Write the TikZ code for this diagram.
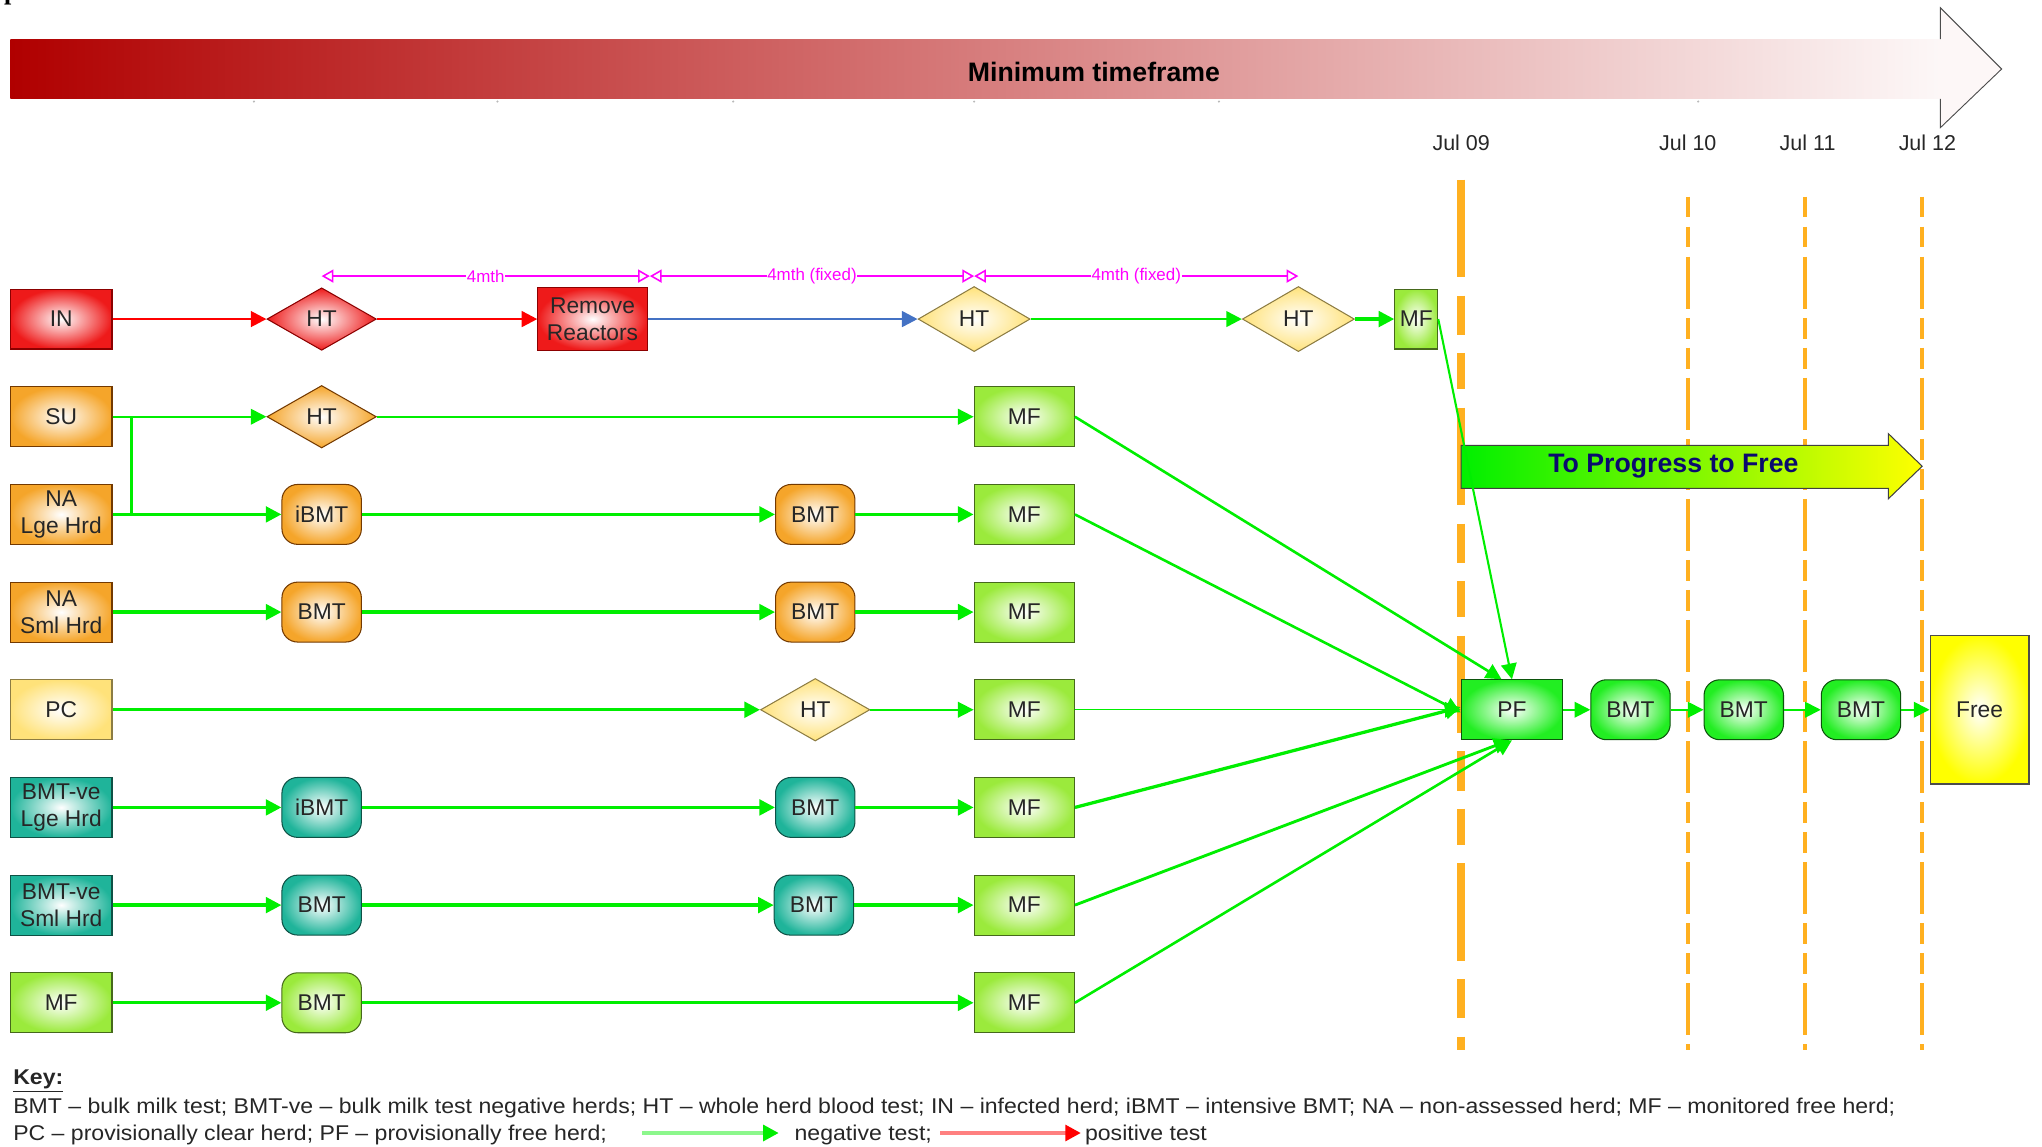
\documentclass[tikz,border=0pt]{standalone}
\usepackage{fontspec}
\setmainfont{Liberation Sans}
\newfontfamily\pserif{Liberation Serif}
\newfontfamily\keyfam[FakeStretch=1.08]{Liberation Sans}
\usetikzlibrary{shapes.geometric,arrows.meta}
\definecolor{cred}{HTML}{EE1A1A}
\definecolor{corange}{HTML}{F5A52A}
\definecolor{cyellow}{HTML}{FFE27A}
\definecolor{cteal}{HTML}{1FB49A}
\definecolor{clime}{HTML}{9BEA3C}
\definecolor{cgreen}{HTML}{22EE22}
\definecolor{cfree}{HTML}{FFFF00}
\definecolor{arrgreen}{HTML}{00EE00}
\definecolor{arrred}{HTML}{FF0000}
\definecolor{cblue}{HTML}{4472C4}
\definecolor{cmag}{HTML}{FF00FF}
\definecolor{cdash}{HTML}{FFB020}
\definecolor{navy}{HTML}{0A0A6E}
\definecolor{barred}{HTML}{B00000}
\begin{document}
\begin{tikzpicture}[x=1pt,y=-1pt,
  lbl/.style={font=\fontsize{17.5}{21}\selectfont, text=black!85},
  box/.style={lbl, rectangle, minimum width=78pt, minimum height=46pt, inner sep=1pt, align=center, line width=0.8pt},
  dia/.style={lbl, diamond, aspect=1.75, minimum width=84pt, minimum height=48pt, inner sep=0pt, line width=0.8pt},
  rnd/.style={lbl, rectangle, rounded corners=12pt, minimum width=61pt, minimum height=46pt, inner sep=1pt, line width=0.8pt},
  fred/.style={draw=red!55!black, inner color=white, outer color=cred},
  forange/.style={draw=orange!45!black, inner color=white, outer color=corange},
  fyellow/.style={draw=cyellow!55!black, inner color=white, outer color=cyellow},
  fteal/.style={draw=cteal!45!black, inner color=white, outer color=cteal},
  flime/.style={draw=clime!45!black, inner color=white, outer color=clime},
  fgreen/.style={draw=cgreen!35!black, inner color=white, outer color=cgreen},
  ffree/.style={draw=black!70, inner color=white, outer color=cfree},
  arw/.style={-{Triangle[length=12pt,width=12pt]}},
  negarr/.style={arw, draw=arrgreen, fill=arrgreen, line width=#1},
  negarr/.default=2.5pt,
  posarr/.style={arw, draw=arrred, fill=arrred, line width=2pt},
  dimline/.style={draw=cmag, line width=1.2pt, {Triangle[open,length=9pt,width=10pt]}-{Triangle[open,length=9pt,width=10pt]}},
  dimlbl/.style={fill=white, inner sep=0.5pt, text=cmag, font=\fontsize{13}{14}\selectfont},
  datelbl/.style={font=\fontsize{16.5}{18}\selectfont, text=black!85},
  keyfont/.style={font=\keyfam\fontsize{16.4}{18}\selectfont, text=black!85, anchor=base west, inner sep=0pt}
]
\useasboundingbox (0,0) rectangle (1568,880);
\clip (0,0) rectangle (1568,880);

% fragment of a letter at the very top
\node[font=\pserif\bfseries\fontsize{20}{20}\selectfont, anchor=base west, inner sep=0pt] (pfrag) at (3,0) {p};

% timeframe bar
\shade[left color=barred, right color=barred!3] (8,30) rectangle (1490,76);
\fill[barred!3] (1490,6) -- (1537,53) -- (1490,98) -- cycle;
\draw[black!70, line width=0.7pt] (1490,30) -- (1490,6) -- (1537,53) -- (1490,98) -- (1490,76);
\foreach \t in {195,382,563,748,936,1304} \fill[gray!55] (\t,78) circle (0.9);
\node[font=\bfseries\fontsize{20.5}{24}\selectfont] (title) at (840,55) {Minimum timeframe};

% dates and dashed lines
\node[datelbl] (d09) at (1122,110) {Jul 09};
\node[datelbl] (d10) at (1296,110) {Jul 10};
\node[datelbl] (d11) at (1388,110) {Jul 11};
\node[datelbl] (d12) at (1480,110) {Jul 12};
\draw[cdash, line width=6pt, dash pattern=on 75pt off 14pt on 30pt off 14pt on 28pt off 14pt] (1122,138) -- (1122,806);
\foreach \x in {1296,1386,1476}
  \draw[cdash, line width=3pt, dash pattern=on 16pt off 7pt on 16pt off 7pt on 40pt off 7pt] (\x,151) -- (\x,806);

% progress arrow
\path[draw=black!75, line width=0.8pt, left color=arrgreen!90!green, right color=yellow]
  (1122,342) -- (1450,342) -- (1450,333) -- (1476,358) -- (1450,383) -- (1450,375) -- (1122,375) -- cycle;
\node[font=\bfseries\fontsize{20.5}{24}\selectfont, text=navy] (prog) at (1285,358) {To Progress to Free};

% left column
\node[box, fred] (in) at (47,245) {IN};
\node[box, forange] (su) at (47,320) {SU};
\node[box, forange] (nal) at (47,395) {NA\\Lge Hrd};
\node[box, forange] (nas) at (47,470) {NA\\Sml Hrd};
\node[box, fyellow] (pc) at (47,545) {PC};
\node[box, fteal] (bvl) at (47,620) {BMT-ve\\Lge Hrd};
\node[box, fteal] (bvs) at (47,695) {BMT-ve\\Sml Hrd};
\node[box, flime] (mf) at (47,770) {MF};

% column 1
\node[dia, fred] (ht1) at (247,245) {HT};
\node[dia, forange] (ht2) at (247,320) {HT};
\node[rnd, forange] (ibmt1) at (247,395) {iBMT};
\node[rnd, forange] (bmt1) at (247,470) {BMT};
\node[rnd, fteal] (ibmt2) at (247,620) {iBMT};
\node[rnd, fteal] (bmt2) at (247,695) {BMT};
\node[rnd, flime] (bmt3) at (247,770) {BMT};

\node[box, fred, minimum width=84pt, minimum height=48pt] (rr) at (455,245) {Remove\\Reactors};

% column 2
\node[rnd, forange] (bmt4) at (626,395) {BMT};
\node[rnd, forange] (bmt5) at (626,470) {BMT};
\node[dia, fyellow] (ht5) at (626,545) {HT};
\node[rnd, fteal] (bmt6) at (626,620) {BMT};
\node[rnd, fteal] (bmt7) at (625,695) {BMT};

% top row
\node[dia, fyellow, minimum width=86pt, minimum height=50pt] (ht3) at (748,245) {HT};
\node[dia, fyellow, minimum width=86pt, minimum height=50pt] (ht4) at (997,245) {HT};
\node[box, flime, minimum width=33pt] (mfs) at (1087.5,245) {MF};

% column 3
\node[box, flime, minimum width=77pt] (mf2) at (786.5,320) {MF};
\node[box, flime, minimum width=77pt] (mf3) at (786.5,395) {MF};
\node[box, flime, minimum width=77pt] (mf4) at (786.5,470) {MF};
\node[box, flime, minimum width=77pt] (mf5) at (786.5,545) {MF};
\node[box, flime, minimum width=77pt] (mf6) at (786.5,620) {MF};
\node[box, flime, minimum width=77pt] (mf7) at (786.5,695) {MF};
\node[box, flime, minimum width=77pt] (mf8) at (786.5,770) {MF};

% right part
\node[box, fgreen] (pf) at (1161,545) {PF};
\node[rnd, fgreen] (g1) at (1252,545) {BMT};
\node[rnd, fgreen] (g2) at (1339,545) {BMT};
\node[rnd, fgreen] (g3) at (1429,545) {BMT};
\node[box, ffree, minimum width=76pt, minimum height=114pt] (free) at (1520,545) {Free};

% connectors
\draw[posarr] (in) -- (ht1);
\draw[posarr] (ht1) -- (rr);
\draw[arw, draw=cblue, fill=cblue, line width=2pt] (rr) -- (ht3);
\draw[negarr=2pt] (ht3) -- (ht4);
\draw[negarr=2.5pt] (ht4) -- (mfs);
\draw[negarr=1.6pt] (mfs.east) -- (pf.north);

\coordinate (j1) at (101,320);
\coordinate (j2) at (101,395);
\draw[negarr=1.3pt] (su) -- (ht2);
\draw[draw=arrgreen, line width=2pt] (j1) -- (j2);
\draw[negarr=1.3pt] (ht2) -- (mf2);
\draw[negarr=2pt] (mf2.east) -- ([xshift=-8pt]pf.north);

\draw[negarr] (nal) -- (ibmt1);
\draw[negarr] (ibmt1) -- (bmt4);
\draw[negarr] (bmt4) -- (mf3);
\draw[negarr=2pt] (mf3.east) -- ([yshift=-2pt]pf.west);

\draw[negarr] (nas) -- (bmt1);
\draw[negarr] (bmt1) -- (bmt5);
\draw[negarr] (bmt5) -- (mf4);

\draw[negarr] (pc) -- (ht5);
\draw[negarr=1.3pt] (ht5) -- (mf5);
\draw[negarr=1pt] (mf5) -- (pf);

\draw[negarr] (bvl) -- (ibmt2);
\draw[negarr] (ibmt2) -- (bmt6);
\draw[negarr] (bmt6) -- (mf6);
\draw[negarr=2.5pt] (mf6.east) -- ([yshift=2pt]pf.west);

\draw[negarr] (bvs) -- (bmt2);
\draw[negarr] (bmt2) -- (bmt7);
\draw[negarr] (bmt7) -- (mf7);
\draw[negarr=2.2pt] (mf7.east) -- ([xshift=-2pt]pf.south);

\draw[negarr] (mf) -- (bmt3);
\draw[negarr] (bmt3) -- (mf8);
\draw[negarr=2pt] (mf8.east) -- (pf.south);

\draw[negarr=1.3pt] (pf) -- (g1);
\draw[negarr=1.3pt] (g1) -- (g2);
\draw[negarr=1.3pt] (g2) -- (g3);
\draw[negarr=1.3pt] (g3) -- (free);

% magenta intervals
\coordinate (m0) at (247,212);
\coordinate (m1) at (499,212);
\coordinate (m2) at (748,212);
\coordinate (m3) at (997,212);
\draw[dimline] (m0) -- node[dimlbl] (l1) {4mth} (m1);
\draw[dimline] (m1) -- node[dimlbl] (l2) {4mth (fixed)} (m2);
\draw[dimline] (m2) -- node[dimlbl] (l3) {4mth (fixed)} (m3);

% key
\node[keyfont, font=\keyfam\bfseries\fontsize{16.4}{18}\selectfont] (key) at (10,833) {\underline{Key:}};
\node[keyfont] (k1) at (10,855) {BMT – bulk milk test; BMT-ve – bulk milk test negative herds; HT – whole herd blood test; IN – infected herd; iBMT – intensive BMT; NA – non-assessed herd; MF – monitored free herd;};
\node[keyfont] (k2) at (10,876) {PC – provisionally clear herd; PF – provisionally free herd;};
\coordinate (lg1) at (493,870);
\coordinate (lg2) at (598,870);
\coordinate (lr1) at (722,870);
\coordinate (lr2) at (830,870);
\draw[line width=3pt, draw=arrgreen!45, -{Triangle[length=12pt,width=12pt,color=arrgreen]}] (lg1) -- (lg2);
\node[keyfont] (k3) at (610,876) {negative test;};
\draw[line width=3pt, draw=arrred!50, -{Triangle[length=12pt,width=12pt,color=arrred]}] (lr1) -- (lr2);
\node[keyfont] (k4) at (833,876) {positive test};
\end{tikzpicture}
\end{document}
